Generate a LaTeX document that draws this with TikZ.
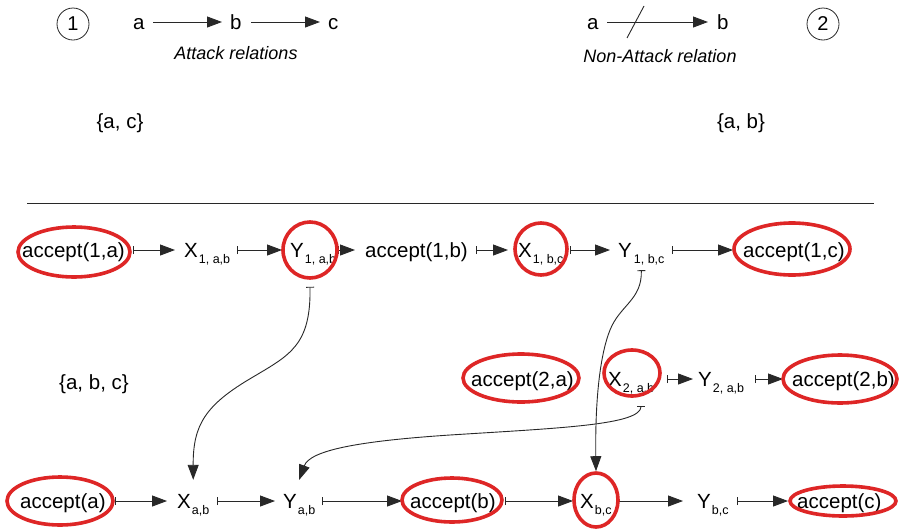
\documentclass[tikz,border=0pt]{standalone}
\usepackage{fontspec}
\setmainfont{Liberation Sans}
\usetikzlibrary{arrows.meta,shapes.geometric}
\definecolor{ringred}{RGB}{222,38,38}
\definecolor{ink}{RGB}{40,40,40}
\newcommand{\lowsub}[1]{\raisebox{-6pt}{\fontsize{12.5}{13}\selectfont #1}}
\tikzset{
  lbl/.style={inner sep=0pt, text height=17pt, text depth=3pt,
              font=\fontsize{20.5}{24}\selectfont, anchor=base west},
  caption/.style={inner sep=0pt, font=\fontsize{18}{22}\selectfont\itshape, anchor=base},
  setlbl/.style={inner sep=0pt, font=\fontsize{20.5}{24}\selectfont, anchor=base},
  numring/.style={circle, draw=ink, line width=0.8pt, minimum size=32pt, inner sep=0pt,
                  font=\fontsize{20}{24}\selectfont},
  ring/.style={ellipse, draw=ringred, line width=3.6pt, inner sep=0pt},
  plain/.style={-{Triangle[length=15pt,width=11pt]}, line width=0.9pt, draw=ink, fill=ink},
  tconn/.style={{Bar[width=8pt]}-{Triangle[length=15pt,width=11pt]}, line width=0.9pt, draw=ink},
}
\begin{document}
\begin{tikzpicture}[x=1pt, y=-1pt]
\useasboundingbox[fill=white] (0,0) rectangle (902,528);

% ---------- upper part: the two small frameworks ----------
\node[numring] (one) at (73,24) {1};
\node[lbl] (ta) at (133,29) {a};
\node[lbl] (tb) at (230,29) {b};
\node[lbl] (tc) at (328,29) {c};
\draw[plain, shorten <=8.6pt, shorten >=8pt] (ta.east) -- (tb.west);
\draw[plain, shorten <=9.6pt, shorten >=8pt] (tb.east) -- (tc.west);
\node[caption] (attcap) at (236,59) {Attack relations};
\node[setlbl] (setac) at (120,128) {\{a, c\}};

\node[lbl] (ra) at (587,29) {a};
\node[lbl] (rb) at (717,29) {b};
\draw[plain, shorten <=8.6pt, shorten >=9pt] (ra.east) -- (rb.west);
\draw[ink, line width=0.9pt] (627,38) -- (644,6);
\node[caption] (noncap) at (660,62) {Non-Attack relation};
\node[numring] (two) at (823,24) {2};
\node[setlbl] (setab) at (741,128) {\{a, b\}};

\draw[ink, line width=0.8pt] (27,203) -- (874,203);

% ---------- row 1 ----------
\node[lbl] (n1a) at (22,257) {accept(1,a)};
\node[lbl] (X1ab) at (184,257) {X\kern1pt\lowsub{1, a,b}};
\node[lbl] (Y1ab) at (290,257) {Y\kern1pt\lowsub{1, a,b}};
\node[lbl] (n1b) at (365,257) {accept(1,b)};
\node[lbl] (X1bc) at (518,257) {X\kern1pt\lowsub{1, b,c}};
\node[lbl] (Y1bc) at (618,257) {Y\kern2pt\lowsub{1, b,c}};
\node[lbl] (n1c) at (743,257) {accept(1,c)};

\draw[tconn, shorten <=8.5pt, shorten >=9pt] (n1a.east) -- (X1ab.west);
\draw[tconn, shorten <=7pt, shorten >=8pt] (X1ab.east) -- (Y1ab.west);
\draw[tconn, shorten <=2pt, shorten >=10pt] (Y1ab.east) -- (n1b.west);
\draw[tconn, shorten <=8.5pt, shorten >=10pt] (n1b.east) -- (X1bc.west);
\draw[tconn, shorten <=6pt, shorten >=8pt] (X1bc.east) -- (Y1bc.west);
\draw[tconn, shorten <=7pt, shorten >=10pt] (Y1bc.east) -- (n1c.west);

% ---------- row 2 ----------
\node[setlbl] (setabc) at (94,389) {\{a, b, c\}};
\node[lbl] (n2a) at (471,386) {accept(2,a)};
\node[lbl] (X2ab) at (608,386) {X\kern1pt\lowsub{2, a,b}};
\node[lbl] (Y2ab) at (698,386) {Y\kern1pt\lowsub{2, a,b}};
\node[lbl] (n2b) at (792,386) {accept(2,b)};

\draw[tconn, shorten <=13pt, shorten >=5pt] (X2ab.east) -- (Y2ab.west);
\draw[tconn, shorten <=11pt, shorten >=9pt] (Y2ab.east) -- (n2b.west);

% ---------- row 3 ----------
\node[lbl] (na) at (20,508) {accept(a)};
\node[lbl] (Xab) at (177,508) {X\kern1pt\lowsub{a,b}};
\node[lbl] (Yab) at (283,508) {Y\kern1pt\lowsub{a,b}};
\node[lbl] (nb) at (410,508) {accept(b)};
\node[lbl] (Xbc) at (580,508) {X\kern1pt\lowsub{b,c}};
\node[lbl] (Ybc) at (697,508) {Y\kern1pt\lowsub{b,c}};
\node[lbl] (nc) at (797,508) {accept(c)};

\draw[tconn, shorten <=9.6pt, shorten >=10pt] (na.east) -- (Xab.west);
\draw[tconn, shorten <=8pt, shorten >=8pt] (Xab.east) -- (Yab.west);
\draw[tconn, shorten <=7pt, shorten >=8pt] (Yab.east) -- (nb.west);
\draw[tconn, shorten <=9.6pt, shorten >=7pt] (nb.east) -- (Xbc.west);
\draw[tconn, shorten <=6.6pt, shorten >=14pt] (Xbc.east) -- (Ybc.west);
\draw[tconn, shorten <=8.6pt, shorten >=9pt] (Ybc.east) -- (nc.west);

% ---------- red rings ----------
\node[ring, minimum width=112pt, minimum height=50pt] (e1a) at (74,252) {};
\node[ring, minimum width=54pt, minimum height=56pt] (eY1ab) at (310,250) {};
\node[ring, minimum width=52pt, minimum height=52pt] (eX1bc) at (541,249) {};
\node[ring, minimum width=116pt, minimum height=52pt] (e1c) at (792,249) {};
\node[ring, minimum width=116pt, minimum height=48pt] (e2a) at (521,378) {};
\node[ring, minimum width=56pt, minimum height=46pt] (eX2ab) at (632,373) {};
\node[ring, minimum width=114pt, minimum height=48pt] (e2b) at (840,379) {};
\node[ring, minimum width=106pt, minimum height=48pt] (ea) at (60,501) {};
\node[ring, minimum width=100pt, minimum height=44pt] (eb) at (452,500) {};
\node[ring, minimum width=44pt, minimum height=54pt] (eXbc) at (596,500) {};
\node[ring, minimum width=106pt, minimum height=30pt] (ec) at (843,501) {};

% ---------- long inhibiting links between rows ----------
\draw[tconn] ([yshift=-7pt]eY1ab.south) .. controls (311,345) and (290,355) .. (253,377)
  .. controls (205,405) and (193,425) .. ([yshift=11pt]Xab.north);
\draw[tconn] ([yshift=-10pt]Y1bc.south) .. controls (642,300) and (620,305) .. (610,330)
  .. controls (600,355) and (595,400) .. (eXbc.north);
\draw[tconn] ([xshift=9pt,yshift=-8pt]eX2ab.south) .. controls (641,425) and (560,428) .. (450,435)
  .. controls (360,441) and (310,450) .. ([yshift=11pt]Yab.north);
\end{tikzpicture}
\end{document}
